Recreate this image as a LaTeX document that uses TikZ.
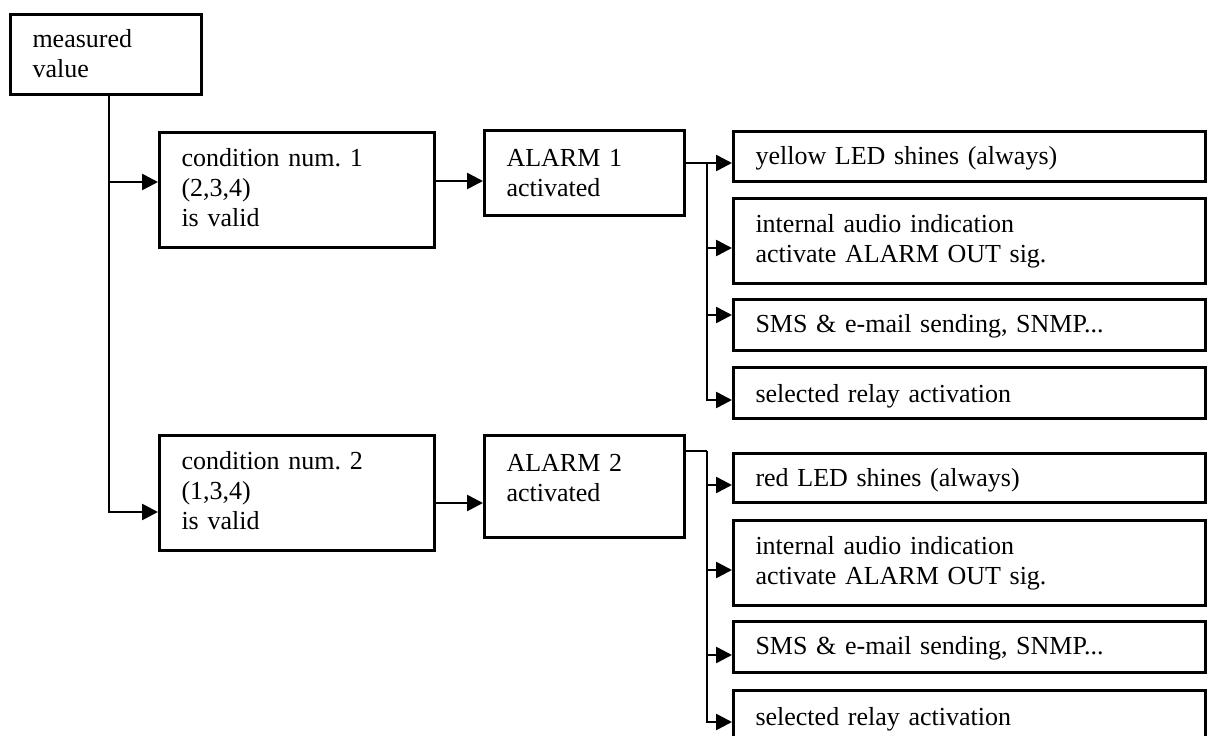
\documentclass[tikz,border=0pt]{standalone}
\usepackage{fontspec}
\setmainfont{Liberation Serif}
\frenchspacing
\usetikzlibrary{arrows.meta}

\begin{document}
\begin{tikzpicture}[
      x=1pt, y=-1pt,
      blk/.style={draw, line width=3pt, anchor=north west, inner xsep=22pt, inner ysep=0pt,
        align=left, font=\fontsize{26}{30}\selectfont},
      wide/.style={blk, text width=428pt},
      ln/.style={line width=2.6pt},
      arr/.style={ln, -{Triangle[length=16pt, width=16pt]}},
    ]
    \clip (0,0) rectangle (1208,736);

    % Input and conditions
    \node[blk, text width=147pt, text height=33pt, text depth=47pt] (meas) at (9,13) {measured\\value};
    \node[blk, text width=231pt, text height=34pt, text depth=81pt] (c1) at (158,131) {condition num. 1\\(2,3,4)\\is valid};
    \node[blk, text width=231pt, text height=34pt, text depth=81pt] (c2) at (158,434) {condition num. 2\\(1,3,4)\\is valid};
    \coordinate (trunk) at (109,0);
    \draw[arr] (meas.south -| trunk) |- (c2.west |- 0,512);
    \draw[arr] (trunk |- 0,182) -- (c1.west |- 0,182);

    % Alarms
    \node[blk, text width=156pt, text height=36pt, text depth=49pt] (a1) at (483,129) {ALARM 1\\activated};
    \node[blk, text width=156pt, text height=36pt, text depth=66pt] (a2) at (483,434) {ALARM 2\\activated};
    \draw[arr] (c1.east |- 0,181) -- (a1.west |- 0,181);
    \draw[arr] (c2.east |- 0,503) -- (a2.west |- 0,503);

    % Actions of ALARM 1
    \node[wide, text height=33pt, text depth=17pt] (y1) at (732,130) {yellow LED shines (always)};
    \node[wide, text height=34pt, text depth=51pt] (i1) at (732,197) {internal audio indication\\activate ALARM OUT sig.};
    \node[wide, text height=33pt, text depth=18pt] (s1) at (732,298) {SMS \& e-mail sending, SNMP...};
    \node[wide, text height=35pt, text depth=16pt] (r1) at (732,366) {selected relay activation};
    \coordinate (br1) at (707,163);
    \draw[arr] (a1.east |- br1) -- (y1.west |- br1);
    \draw[arr] (br1) |- (r1.west |- 0,400);
    \draw[arr] (br1 |- 0,248) -- (i1.west |- 0,248);
    \draw[arr] (br1 |- 0,315) -- (s1.west |- 0,315);

    % Actions of ALARM 2
    \node[wide, text height=33pt, text depth=16pt] (y2) at (732,452) {red LED shines (always)};
    \node[wide, text height=34pt, text depth=51pt] (i2) at (732,519) {internal audio indication\\activate ALARM OUT sig.};
    \node[wide, text height=33pt, text depth=18pt] (s2) at (732,620) {SMS \& e-mail sending, SNMP...};
    \node[wide, text height=35pt, text depth=30pt] (r2) at (732,689) {selected relay activation};
    \coordinate (br2) at (707,451);
    \draw[ln] (a2.east |- br2) -- (br2);
    \draw[arr] (br2) |- (r2.west |- 0,722);
    \draw[arr] (br2 |- 0,485) -- (y2.west |- 0,485);
    \draw[arr] (br2 |- 0,570) -- (i2.west |- 0,570);
    \draw[arr] (br2 |- 0,655) -- (s2.west |- 0,655);
  \end{tikzpicture}
\end{document}
